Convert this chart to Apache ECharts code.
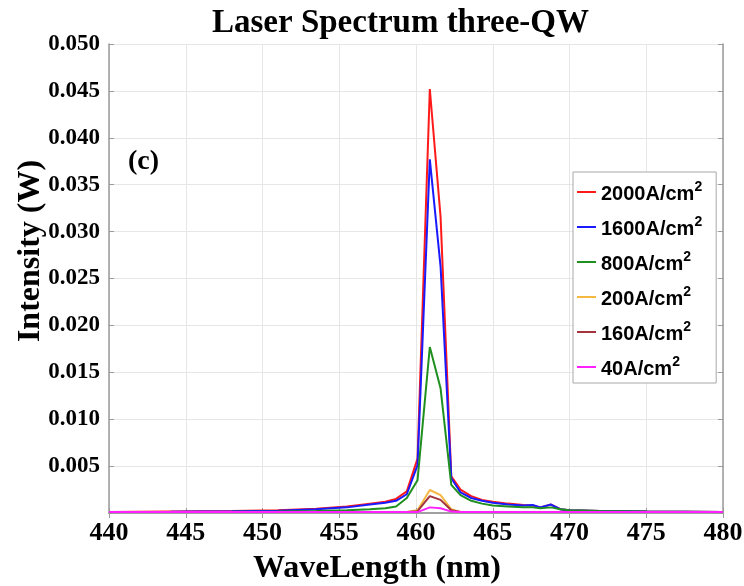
<!DOCTYPE html>
<html>
<head>
<meta charset="utf-8">
<script src="https://cdn.jsdelivr.net/npm/echarts@6/dist/echarts.min.js"></script>
<style>
html,body{margin:0;padding:0;background:#fff;}
#chart{width:744px;height:586px;}
</style>
</head>
<body>
<div id="chart"></div>
<script>
// Wavelength samples (nm)
const wavelength = [440, 444, 448, 451, 453.5, 455.5, 457, 458, 458.7, 459.4, 460.1, 460.9, 461.6, 462.3, 462.9, 463.6, 464.3, 465, 466, 467, 467.6, 468.1, 468.8, 469.4, 470, 472, 475, 480];
// Intensity (W) per current density
const i2000 = [0.0001, 0.00015, 0.0002, 0.0003, 0.00045, 0.0007, 0.001, 0.0012, 0.0015, 0.0023, 0.0058, 0.0452, 0.0316, 0.0039, 0.0025, 0.0018, 0.0014, 0.0012, 0.001, 0.00085, 0.0008, 0.0006, 0.0009, 0.0004, 0.0003, 0.0002, 0.00015, 0.0001];
const i1600 = [0.0001, 0.00012, 0.00018, 0.00025, 0.0004, 0.0006, 0.0009, 0.0011, 0.0013, 0.002, 0.0051, 0.0377, 0.0263, 0.0037, 0.0022, 0.0016, 0.0013, 0.0011, 0.0009, 0.0008, 0.00085, 0.0006, 0.0009, 0.0004, 0.0003, 0.0002, 0.00015, 0.0001];
const i800  = [0.0001, 0.0001, 0.00012, 0.00015, 0.0002, 0.0003, 0.0004, 0.0005, 0.0007, 0.0016, 0.0035, 0.0177, 0.0133, 0.003, 0.0019, 0.0013, 0.001, 0.0008, 0.0007, 0.0006, 0.0006, 0.0005, 0.0006, 0.0004, 0.0003, 0.0002, 0.00015, 0.0001];
const i200  = [0.0001, 0.0001, 0.0001, 0.0001, 0.0001, 0.0001, 0.0001, 0.0001, 0.0001, 0.0001, 0.0003, 0.00245, 0.0019, 0.0004, 0.0001, 0.0001, 0.0001, 0.0001, 0.0001, 0.0001, 0.0001, 0.0001, 0.0001, 0.0001, 0.0001, 0.0001, 0.0001, 0.0001];
const i160  = [0.0001, 0.0001, 0.0001, 0.0001, 0.0001, 0.0001, 0.0001, 0.0001, 0.0001, 0.0001, 0.0002, 0.0018, 0.0014, 0.0003, 0.0001, 0.0001, 0.0001, 0.0001, 0.0001, 0.0001, 0.0001, 0.0001, 0.0001, 0.0001, 0.0001, 0.0001, 0.0001, 0.0001];
const i40   = [0.0001, 0.0001, 0.0001, 0.0001, 0.0001, 0.0001, 0.0001, 0.0001, 0.0001, 0.0001, 0.0001, 0.0006, 0.0005, 0.00015, 0.0001, 0.0001, 0.0001, 0.0001, 0.0001, 0.0001, 0.0001, 0.0001, 0.0001, 0.0001, 0.0001, 0.0001, 0.0001, 0.0001];

const seriesNames = ['2000A/cm', '1600A/cm', '800A/cm', '200A/cm', '160A/cm', '40A/cm'];
const seriesValues = [i2000, i1600, i800, i200, i160, i40];
const seriesColors = ['#ff1a1a', '#1a1aff', '#1f8f1f', '#f5b840', '#a3333d', '#ff22ff'];

const xMin = 440, xMax = 480, xStep = 5;
const yMin = 0, yMax = 0.05, yStep = 0.005;

const chart = echarts.init(document.getElementById('chart'), null, {renderer: 'canvas'});

const serif = '"Liberation Serif", "Times New Roman", serif';
const sans = '"Liberation Sans", Arial, sans-serif';
const axisGray = '#9a9a9a';

const series = seriesNames.map((n, k) => ({
  name: n,
  type: 'line',
  symbol: 'none',
  color: seriesColors[k],
  lineStyle: {width: 2, color: seriesColors[k]},
  data: wavelength.map((w, i) => [w, seriesValues[k][i]]),
  xAxisIndex: 0, yAxisIndex: 0
}));

const option = {
  animation: false,
  backgroundColor: '#fff',
  title: {
    text: 'Laser Spectrum three-QW',
    left: 207, top: 2,
    textStyle: {fontFamily: serif, fontWeight: 'bold', fontSize: 33, color: '#000'}
  },
  grid: {left: 109, right: 21, top: 44, bottom: 73, containLabel: false, outerBoundsMode: 'none'},
  legend: {
    orient: 'vertical',
    left: 573, top: 172,
    padding: [8, 14, 4, 4],
    itemGap: 11,
    icon: 'rect',
    itemWidth: 19, itemHeight: 2,
    backgroundColor: '#fff',
    borderColor: '#a8a8a8', borderWidth: 1,
    data: seriesNames,
    formatter: name => '{b|' + name + '}{s|2}',
    textStyle: {
      color: '#000',
      rich: {
        b: {fontFamily: sans, fontWeight: 'bold', fontSize: 20, lineHeight: 24, verticalAlign: 'bottom', color: '#000'},
        s: {fontFamily: sans, fontWeight: 'bold', fontSize: 14, lineHeight: 14, verticalAlign: 'top', color: '#000'}
      }
    }
  },
  xAxis: [{
    type: 'value', min: xMin, max: xMax, interval: xStep,
    name: 'WaveLength (nm)', nameLocation: 'middle', nameGap: 40, nameMoveOverlap: false,
    nameTextStyle: {fontFamily: serif, fontWeight: 'bold', fontSize: 32, color: '#000', padding: [0, 78, 0, 0]},
    axisLine: {show: true, onZero: false, lineStyle: {color: axisGray, width: 1.5}},
    axisTick: {show: true, inside: true, length: 5, lineStyle: {color: axisGray}},
    axisLabel: {fontFamily: serif, fontWeight: 'bold', fontSize: 26, color: '#000', margin: 7},
    splitLine: {show: true, lineStyle: {color: '#e6e6e6', width: 1}}
  }, {
    type: 'value', position: 'top', min: xMin, max: xMax, interval: xStep,
    axisLine: {show: true, lineStyle: {color: axisGray, width: 1.5}},
    axisTick: {show: true, inside: true, length: 5, lineStyle: {color: axisGray}},
    axisLabel: {show: false}, splitLine: {show: false}
  }],
  yAxis: [{
    type: 'value', min: yMin, max: yMax, interval: yStep,
    name: 'Intensity (W)', nameLocation: 'middle', nameGap: 62, nameRotate: 90, nameMoveOverlap: false,
    nameTextStyle: {fontFamily: serif, fontWeight: 'bold', fontSize: 32, color: '#000', padding: [0, 0, 0, 55]},
    axisLine: {show: true, onZero: false, lineStyle: {color: axisGray, width: 1.5}},
    axisTick: {show: true, inside: true, length: 5, lineStyle: {color: axisGray}},
    axisLabel: {fontFamily: serif, fontWeight: 'bold', fontSize: 23, color: '#000', margin: 9,
      formatter: v => (Math.abs(v) < 1e-9 ? '' : v.toFixed(3))},
    splitLine: {show: true, lineStyle: {color: '#e6e6e6', width: 1}}
  }, {
    type: 'value', position: 'right', min: yMin, max: yMax, interval: yStep,
    axisLine: {show: true, lineStyle: {color: axisGray, width: 1.5}},
    axisTick: {show: true, inside: true, length: 5, lineStyle: {color: axisGray}},
    axisLabel: {show: false}, splitLine: {show: false}
  }],
  graphic: [{
    type: 'text', left: 128, top: 148,
    style: {text: '(c)', font: 'bold 28px ' + serif, fill: '#000'}
  }],
  series: series
};
chart.setOption(option);
</script>
</body>
</html>
